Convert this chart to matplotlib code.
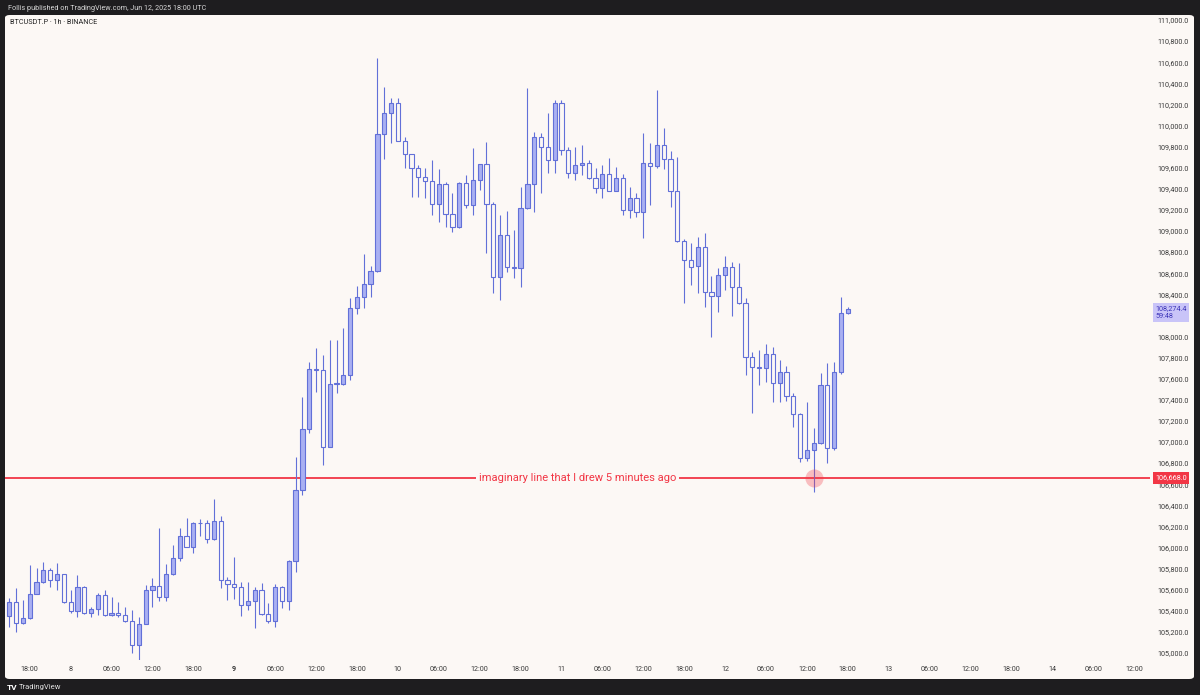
import numpy as np
import pandas as pd
import matplotlib.pyplot as plt
from matplotlib import transforms
from matplotlib.patches import FancyBboxPatch

plt.rcParams['font.family'] = ['Roboto', 'DejaVu Sans']

# BTCUSDT.P 1h candles, first one Jun 7 15:00
opens = [105360, 105496, 105290, 105338, 105568, 105679, 105796, 105701, 105755, 105489,
         105410, 105632, 105385, 105426, 105559, 105369, 105385, 105372, 105315, 105085,
         105284, 105606, 105644, 105543, 105755, 105906, 106121, 106017, 106238, 106242,
         106087, 106264, 105701, 105663, 105638, 105464, 105505, 105606, 105379, 105315,
         105638, 105505, 105884, 106554, 107129, 107698, 107690, 106965, 107556, 107560,
         107644, 108276, 108380, 108504, 108630, 109926, 110125, 110219, 109862, 109736,
         109603, 109520, 109484, 109265, 109452, 109171, 109044, 109468, 109256, 109493,
         109642, 109262, 108570, 108972, 108671, 108660, 109224, 109452, 109904, 109809,
         109683, 110226, 109777, 109556, 109635, 109650, 109515, 109414, 109547, 109389,
         109515, 109209, 109319, 109187, 109657, 109626, 109825, 109689, 109389, 108918,
         108735, 108677, 108860, 108434, 108393, 108592, 108665, 108475, 108330, 107811,
         107717, 107708, 107843, 107565, 107676, 107448, 107274, 106854, 106933, 107003,
         107549, 106949, 107676, 108229]
highs = [105527, 105622, 105511, 105843, 105818, 105875, 105818, 105859, 105760, 105606,
         105748, 105640, 105448, 105581, 105606, 105537, 105496, 105442, 105417, 105353,
         105654, 105717, 106191, 105850, 106033, 106191, 106292, 106254, 106276, 106270,
         106469, 106308, 105733, 105922, 105685, 105685, 105638, 105676, 105480, 105660,
         105645, 105891, 106870, 107439, 107770, 107903, 107834, 107976, 107976, 108086,
         108371, 108488, 108788, 108677, 110646, 110377, 110273, 110267, 109903, 109740,
         109635, 109604, 109683, 109594, 109477, 109367, 109477, 109540, 109793, 109645,
         109856, 109288, 109161, 109202, 109019, 109430, 110362, 109951, 109942, 110125,
         110251, 110251, 109809, 109809, 109825, 109683, 109604, 109635, 109705, 109619,
         109547, 109430, 109367, 109942, 109841, 110346, 109989, 109771, 109708, 108931,
         108893, 108953, 108990, 108583, 108655, 108772, 108718, 108709, 108371, 107865,
         107881, 107938, 107906, 107786, 107729, 107470, 107281, 107391, 107138, 107660,
         107755, 107770, 108387, 108285]
lows = [105259, 105211, 105284, 105330, 105565, 105675, 105638, 105606, 105480, 105385,
        105347, 105379, 105353, 105369, 105363, 105363, 105353, 105306, 105006, 104943,
        105280, 105448, 105505, 105505, 105750, 105881, 106012, 105960, 106118, 106055,
        106080, 105622, 105511, 105521, 105363, 105417, 105249, 105369, 105290, 105259,
        105439, 105417, 105780, 106507, 107091, 107486, 106791, 106960, 107470, 107550,
        107597, 108219, 108276, 108380, 108625, 109689, 109840, 109858, 109603, 109335,
        109335, 109319, 109161, 109098, 109051, 109003, 109040, 109224, 109161, 109398,
        108798, 108425, 108355, 108624, 108561, 108482, 109220, 109193, 109367, 109556,
        109556, 109730, 109509, 109493, 109540, 109499, 109373, 109319, 109385, 109385,
        109161, 109130, 109139, 108940, 109256, 109604, 109594, 109240, 108908, 108330,
        108497, 108418, 108292, 108001, 108244, 108450, 108203, 108322, 107644, 107287,
        107549, 107581, 107391, 107391, 107401, 107154, 106822, 106829, 106538, 106995,
        106807, 106933, 107653, 108225]
closes = [105496, 105290, 105338, 105568, 105679, 105796, 105701, 105755, 105489, 105410,
          105632, 105385, 105426, 105559, 105369, 105385, 105372, 105315, 105085, 105284,
          105606, 105644, 105543, 105755, 105906, 106121, 106017, 106238, 106242, 106087,
          106264, 105701, 105663, 105638, 105464, 105505, 105606, 105379, 105315, 105638,
          105505, 105884, 106554, 107129, 107698, 107690, 106965, 107556, 107560, 107644,
          108276, 108380, 108504, 108630, 109926, 110125, 110219, 109862, 109736, 109603,
          109520, 109484, 109265, 109452, 109171, 109044, 109468, 109256, 109493, 109642,
          109262, 108570, 108972, 108671, 108660, 109224, 109452, 109904, 109809, 109683,
          110226, 109777, 109556, 109635, 109650, 109515, 109414, 109547, 109389, 109515,
          109209, 109319, 109187, 109657, 109626, 109825, 109689, 109389, 108918, 108735,
          108671, 108860, 108434, 108393, 108592, 108665, 108475, 108330, 107811, 107717,
          107708, 107843, 107565, 107676, 107448, 107274, 106854, 106933, 107003, 107549,
          106949, 107676, 108229, 108274.4]

time_labels = ["18:00", "8", "06:00", "12:00", "18:00", "9", "06:00", "12:00", "18:00", "10",
               "06:00", "12:00", "18:00", "11", "06:00", "12:00", "18:00", "12", "06:00", "12:00",
               "18:00", "13", "06:00", "12:00", "18:00", "14", "06:00", "12:00"]
price_ticks = np.arange(105000, 111001, 200)
line_level = 106668.0
line_text = "imaginary line that I drew 5 minutes ago"
countdown = "59:48"

bg = "#fcf8f5"
frame = "#1e1d1f"
fill = "#a9b0f2"
edge = "#6270d8"
red = "#f23645"

W, H = 1200, 695
fig = plt.figure(figsize=(W / 100, H / 100), dpi=100, facecolor=frame)
fig.patches.append(FancyBboxPatch((5 / W, 1 - 679 / H), 1189 / W, 664 / H,
                                  boxstyle="round,pad=0,rounding_size=0.004",
                                  transform=fig.transFigure, fc=bg, ec="none", zorder=-5))

ax = fig.add_axes([5 / W, 1 - 660 / H, 1145 / W, 645 / H])
ax.set_facecolor("none")
for s in ax.spines.values():
    s.set_visible(False)
ax.set_xticks([])
ax.set_yticks([])
ax.set_xlim(-0.63, 167.33)
ax.set_ylim(104943, 111057)

times = pd.date_range("2025-06-07 15:00", periods=len(opens), freq="h")
x = np.arange(len(opens))
o = np.array(opens, dtype=float)
c = np.array(closes, dtype=float)
hi = np.array(highs, dtype=float)
lo = np.array(lows, dtype=float)
up = c >= o
body_lo = np.minimum(o, c)
body_h = np.maximum(np.abs(c - o), 8)

ax.vlines(x, lo, hi, color=edge, lw=0.8, zorder=2)
ax.bar(x[up], body_h[up], bottom=body_lo[up], width=0.62, color=fill, edgecolor=edge, lw=0.8, zorder=3)
ax.bar(x[~up], body_h[~up], bottom=body_lo[~up], width=0.62, color=bg, edgecolor=edge, lw=0.8, zorder=3)

# horizontal line with its label
ax.axhline(line_level, color=red, lw=1.3, zorder=1)
ax.text(0.5, line_level, line_text, transform=transforms.blended_transform_factory(ax.transAxes, ax.transData),
        ha="center", va="center", color=red, fontsize=8, zorder=4,
        bbox=dict(boxstyle="square,pad=0.25", fc=bg, ec="none"))
touch = np.where(lo <= line_level)[0][-1]
ax.plot(touch, line_level, "o", ms=13, color=red, alpha=0.3, mec="none", zorder=5)

# price scale (the label under the last-price box is hidden, as on TradingView)
ytr = transforms.blended_transform_factory(ax.transAxes, ax.transData)
for p in price_ticks:
    if abs(p - closes[-1]) < 100:
        continue
    ax.text(1.034, p, f"{p:,.1f}", transform=ytr, ha="right", va="center",
            fontsize=5.2, color="#3a3a3a", clip_on=False)
ax.text(1.0045, line_level, f"{line_level:,.1f}", transform=ytr, ha="left", va="center",
        fontsize=5.2, color="white", clip_on=False, zorder=6,
        bbox=dict(boxstyle="square,pad=0.35", fc=red, ec="none"))
ax.annotate(f"{closes[-1]:,.1f}\n{countdown}", xy=(1.0045, closes[-1]), xycoords=ytr,
            xytext=(0, -4), textcoords="offset pixels", ha="left", va="center",
            fontsize=5.2, color="#3b33b8", linespacing=1.1, annotation_clip=False, zorder=6,
            bbox=dict(boxstyle="square,pad=0.35", fc="#c9c4f8", ec="none"))

# time scale
tick_times = pd.date_range("2025-06-07 18:00", periods=len(time_labels), freq="6h")
tick_pos = (tick_times - times[0]) / pd.Timedelta(hours=1)
xtr = transforms.blended_transform_factory(ax.transData, ax.transAxes)
for pos, lab in zip(tick_pos, time_labels):
    ax.text(pos, -0.014, lab, transform=xtr, ha="center", va="center", fontsize=5.2,
            color="#3a3a3a", fontweight="bold" if lab == "9" else "normal", clip_on=False)

fig.text(8 / W, 1 - 8 / H, "Follis published on TradingView.com, Jun 12, 2025 18:00 UTC",
         color="#d8d8d8", fontsize=5.2, va="center")
fig.text(10 / W, 1 - 22 / H, "BTCUSDT.P · 1h · BINANCE", color="#222222", fontsize=5.2, va="center")
fig.text(7 / W, 1 - 687 / H, "TV", color="white", fontsize=6, fontweight="bold", va="center")
fig.text(19 / W, 1 - 687 / H, "TradingView", color="#e0e0e0", fontsize=5.5, va="center")

fig.savefig("out.png", dpi=100, facecolor=frame)
